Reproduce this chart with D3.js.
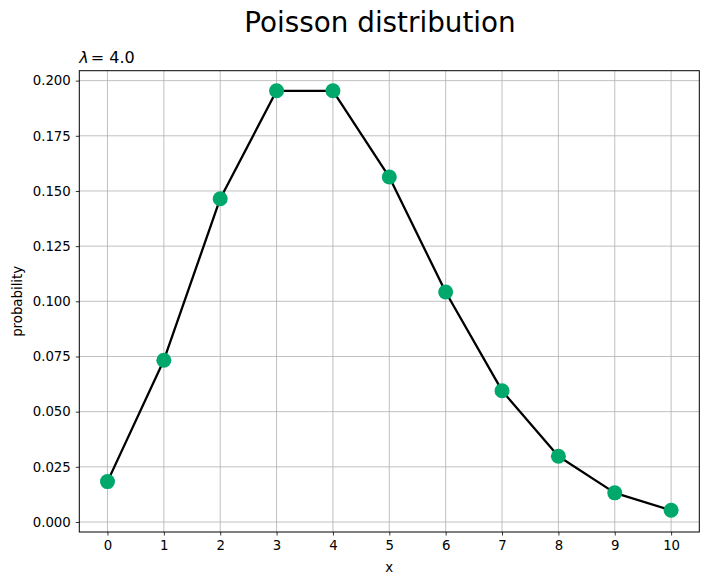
<!DOCTYPE html>
<html>
<head>
<meta charset="utf-8">
<script src="https://cdn.jsdelivr.net/npm/d3@7"></script>
<style>
  body { margin: 0; background: #fff; }
  svg { font-family: "DejaVu Sans", sans-serif; }
</style>
</head>
<body>
<svg id="chart"></svg>
<script>
// poisson pmf, lambda = 4
const xValues = [0, 1, 2, 3, 4, 5, 6, 7, 8, 9, 10];
const probValues = [0.0183, 0.0733, 0.1465, 0.1954, 0.1954, 0.1563, 0.1042, 0.0595, 0.0298, 0.0132, 0.0053];
const yTicks = [0.000, 0.025, 0.050, 0.075, 0.100, 0.125, 0.150, 0.175, 0.200];
const xTicks = [0, 1, 2, 3, 4, 5, 6, 7, 8, 9, 10];

function getConfig(){
    let width = 709;
    let height = 585;
    let margin = { top: 70.7, bottom: 53, left: 79.3, right: 9.7 };
    let bodyWidth = width - margin.left - margin.right;
    let bodyHeight = height - margin.top - margin.bottom;
    let container = d3.select('#chart')
        .attr('width', width)
        .attr('height', height);
    return { width, height, margin, bodyWidth, bodyHeight, container };
}

function getScales(config){
    let xScale = d3.scaleLinear()
        .domain([-0.5, 10.5])
        .range([0, config.bodyWidth]);
    let yScale = d3.scaleLinear()
        .domain([-0.00453, 0.2045])
        .range([config.bodyHeight, 0]);
    return { xScale, yScale };
}

function drawAxes(scales, config){
    let { xScale, yScale } = scales;
    let { container, margin, bodyWidth, bodyHeight } = config;
    let body = container.append('g')
        .attr('transform', `translate(${margin.left},${margin.top})`);

    // grid
    body.append('g').selectAll('line')
        .data(xTicks).enter().append('line')
        .attr('x1', d => xScale(d)).attr('x2', d => xScale(d))
        .attr('y1', 0).attr('y2', bodyHeight)
        .attr('stroke', '#b0b0b0').attr('stroke-width', 0.8);
    body.append('g').selectAll('line')
        .data(yTicks).enter().append('line')
        .attr('y1', d => yScale(d)).attr('y2', d => yScale(d))
        .attr('x1', 0).attr('x2', bodyWidth)
        .attr('stroke', '#b0b0b0').attr('stroke-width', 0.8);

    let axisX = d3.axisBottom(xScale)
        .tickValues(xTicks)
        .tickSizeOuter(0)
        .tickSize(3.5)
        .tickPadding(5);
    let gx = body.append('g')
        .attr('transform', `translate(0,${bodyHeight})`)
        .call(axisX);

    let axisY = d3.axisLeft(yScale)
        .tickValues(yTicks)
        .tickFormat(d3.format('.3f'))
        .tickSizeOuter(0)
        .tickSize(3.5)
        .tickPadding(5);
    let gy = body.append('g').call(axisY);

    [gx, gy].forEach(g => {
        g.select('.domain').remove();
        g.selectAll('line').attr('stroke', '#000').attr('stroke-width', 0.8);
        g.selectAll('text')
            .attr('font-family', 'DejaVu Sans')
            .attr('font-size', 13.3)
            .attr('fill', '#000');
    });

    // frame
    body.append('rect')
        .attr('width', bodyWidth).attr('height', bodyHeight)
        .attr('fill', 'none').attr('stroke', '#000').attr('stroke-width', 1);

    return body;
}

function drawSeries(body, scales){
    let { xScale, yScale } = scales;
    let line = d3.line()
        .x((d, i) => xScale(xValues[i]))
        .y(d => yScale(d));
    body.append('path')
        .datum(probValues)
        .attr('d', line)
        .attr('fill', 'none')
        .attr('stroke', '#000')
        .attr('stroke-width', 2.3)
        .attr('stroke-linejoin', 'round');
    body.selectAll('.dot')
        .data(probValues).enter().append('circle')
        .attr('cx', (d, i) => xScale(xValues[i]))
        .attr('cy', d => yScale(d))
        .attr('r', 7.5)
        .attr('fill', '#00a86b');
}

function drawLabels(config){
    let { container, margin, bodyWidth, bodyHeight } = config;
    container.append('text')
        .attr('x', 380).attr('y', 32)
        .attr('text-anchor', 'middle')
        .attr('font-size', 27.8)
        .text('Poisson distribution');

    let lam = container.append('text')
        .attr('x', margin.left).attr('y', margin.top - 8)
        .attr('font-size', 16);
    lam.append('tspan').attr('font-style', 'italic').text('λ');
    lam.append('tspan').text('= 4.0').attr('dx', 2);

    container.append('text')
        .attr('x', margin.left + bodyWidth / 2)
        .attr('y', margin.top + bodyHeight + 40)
        .attr('text-anchor', 'middle')
        .attr('font-size', 13.3)
        .text('x');

    container.append('text')
        .attr('transform', `translate(22,${margin.top + bodyHeight / 2}) rotate(-90)`)
        .attr('text-anchor', 'middle')
        .attr('font-size', 13.3)
        .text('probability');
}

function drawChart(){
    let config = getConfig();
    let scales = getScales(config);
    let body = drawAxes(scales, config);
    drawSeries(body, scales);
    drawLabels(config);
}

drawChart();
</script>
</body>
</html>
